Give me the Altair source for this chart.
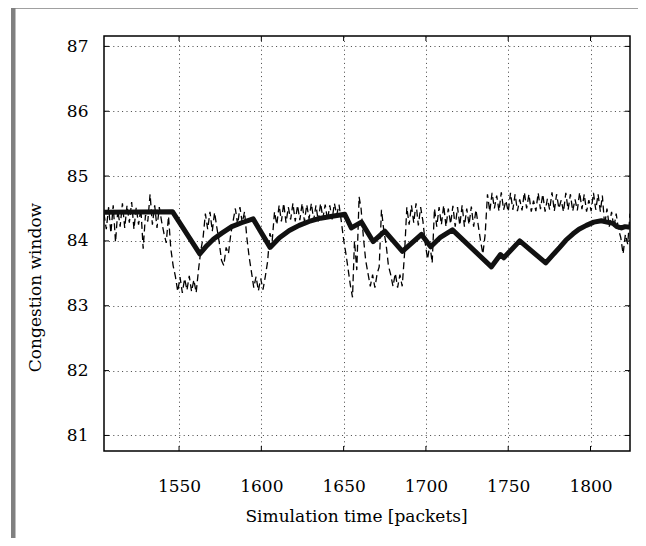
import altair as alt
import pandas as pd

# ---------------- data ----------------
x_ticks = [1550, 1600, 1650, 1700, 1750, 1800]
y_ticks = [81, 82, 83, 84, 85, 86, 87]
x_domain = [1504.4, 1824.0]
y_domain = [80.76, 87.16]

# thick solid line (average congestion window)
avg_time = [1504.4, 1546.0, 1562.6, 1567.0, 1571.0, 1576.0, 1582.0, 1588.0, 1595.0, 1605.3,
            1611.0, 1617.0, 1623.0, 1629.0, 1636.0, 1643.0, 1650.7, 1654.7, 1660.8, 1667.9,
            1675.0, 1685.7, 1697.3, 1702.9, 1709.0, 1716.1, 1739.8, 1745.3, 1747.3, 1757.0,
            1772.8, 1777.0, 1781.3, 1785.0, 1789.4, 1793.0, 1797.5, 1802.0, 1806.6, 1810.0,
            1813.7, 1816.0, 1818.8, 1821.0, 1824.0]
avg_cwnd = [84.44, 84.45, 83.80, 83.93, 84.03, 84.12, 84.22, 84.28, 84.34, 83.90,
            84.05, 84.16, 84.24, 84.30, 84.35, 84.38, 84.41, 84.20, 84.29, 83.99,
            84.15, 83.84, 84.10, 83.91, 84.06, 84.17, 83.60, 83.79, 83.74, 84.00,
            83.66, 83.78, 83.90, 84.01, 84.11, 84.18, 84.24, 84.29, 84.31, 84.29,
            84.27, 84.22, 84.20, 84.22, 84.21]

# thin dashed line (instantaneous congestion window)
dash_time = [
    1504.4, 1505.8, 1507.2, 1508.6, 1510.0, 1511.4, 1512.8, 1514.2, 1515.6, 1517.0,
    1518.4, 1519.8, 1521.2, 1522.6, 1524.0, 1525.4, 1526.8, 1528.2, 1529.6, 1531.0,
    1532.4, 1533.8, 1535.2, 1536.6, 1538.0, 1539.4, 1540.8, 1542.2, 1543.6, 1545.0,
    1546.4, 1547.8, 1549.2, 1550.6, 1552.0, 1553.4, 1554.8, 1556.2, 1557.6, 1559.0,
    1560.4, 1561.8,
    1563.2, 1564.6, 1566.0, 1567.4, 1568.8, 1570.2, 1571.6, 1573.0, 1574.4, 1575.8,
    1577.2, 1578.6, 1580.0, 1581.4, 1582.8, 1584.2, 1585.6, 1587.0, 1588.4, 1589.8,
    1591.2, 1592.6, 1594.0, 1595.4, 1596.8, 1598.2, 1599.6, 1601.0, 1602.4, 1603.8,
    1605.2,
    1606.6, 1608.0, 1609.4, 1610.8, 1612.2, 1613.6, 1615.0, 1616.4, 1617.8, 1619.2,
    1620.6, 1622.0, 1623.4, 1624.8, 1626.2, 1627.6, 1629.0, 1630.4, 1631.8, 1633.2,
    1634.6, 1636.0, 1637.4, 1638.8, 1640.2, 1641.6, 1643.0, 1644.4, 1645.8, 1647.2,
    1648.6, 1650.0, 1651.4, 1652.8, 1654.2, 1655.4, 1656.6, 1658.0, 1659.4, 1660.6,
    1662.0, 1663.4, 1664.8, 1666.2, 1667.6, 1669.0, 1670.4, 1671.6, 1673.0, 1674.4,
    1675.8, 1677.2, 1678.6, 1680.0, 1681.4, 1682.8, 1684.2, 1685.6, 1687.0,
    1688.4, 1689.8, 1691.2, 1692.6, 1694.0, 1695.4, 1696.8, 1698.2, 1699.6, 1701.0,
    1702.4, 1703.8,
    1705.2, 1706.6, 1708.0, 1709.4, 1710.8, 1712.2, 1713.6, 1715.0, 1716.4, 1717.8,
    1719.2, 1720.6, 1722.0, 1723.4, 1724.8, 1726.2, 1727.6, 1729.0, 1730.4, 1731.8,
    1733.2, 1734.6, 1736.0,
    1737.4, 1738.8, 1740.2, 1741.6, 1743.0, 1744.4, 1745.8, 1747.2, 1748.6, 1750.0,
    1751.4, 1752.8, 1754.2, 1755.6, 1757.0, 1758.4, 1759.8, 1761.2, 1762.6, 1764.0,
    1765.4, 1766.8, 1768.2, 1769.6, 1771.0, 1772.4, 1773.8, 1775.2, 1776.6, 1778.0,
    1779.4, 1780.8, 1782.2, 1783.6, 1785.0, 1786.4, 1787.8, 1789.2, 1790.6, 1792.0,
    1793.4, 1794.8, 1796.2, 1797.6, 1799.0, 1800.4, 1801.8, 1803.2, 1804.6, 1806.0,
    1807.2,
    1808.6, 1810.0, 1811.4, 1812.8, 1814.2, 1815.6, 1817.0, 1818.4, 1819.8, 1821.2,
    1822.6, 1824.0,
]
dash_cwnd = [
    84.42, 84.18, 84.52, 84.12, 84.55, 83.98, 84.48, 84.22, 84.58, 84.20,
    84.55, 84.28, 84.60, 84.18, 84.52, 84.25, 84.50, 83.88, 84.40, 84.30,
    84.72, 84.25, 84.55, 84.20, 84.52, 84.30, 84.12, 83.97, 84.38, 83.88,
    83.62, 83.45, 83.22, 83.44, 83.20, 83.42, 83.24, 83.46, 83.22, 83.40,
    83.20, 83.55,
    83.85, 84.05, 84.42, 84.18, 84.45, 84.15, 84.44, 84.20, 83.98, 83.70,
    83.62, 83.90, 83.80, 84.10, 84.30, 84.50, 84.25, 84.52, 84.28, 84.45,
    84.05, 83.75, 83.52, 83.28, 83.45, 83.23, 83.42, 83.25, 83.45, 83.68,
    84.12,
    84.00, 84.45, 84.25, 84.55, 84.30, 84.58, 84.28, 84.52, 84.33, 84.58,
    84.30, 84.55, 84.32, 84.58, 84.30, 84.56, 84.34, 84.58, 84.32, 84.55,
    84.30, 84.58, 84.35, 84.56, 84.32, 84.55, 84.33, 84.58, 84.40, 84.56,
    84.30, 84.02, 83.80, 83.55, 83.30, 83.13, 84.00, 83.55, 84.68, 84.50,
    84.06, 83.70, 83.50, 83.30, 83.48, 83.28, 83.50, 83.60, 84.48, 84.16,
    83.95, 83.62, 83.48, 83.30, 83.50, 83.28, 83.48, 83.30, 83.80,
    84.52, 84.25, 84.55, 84.28, 84.58, 84.24, 84.52, 84.30, 83.96, 83.72,
    83.95, 83.66,
    84.50, 84.22, 84.52, 84.25, 84.55, 84.22, 84.50, 84.26, 84.54, 84.22,
    84.52, 84.24, 84.55, 84.22, 84.50, 84.25, 84.53, 84.22, 84.48, 84.24,
    84.00, 83.80, 84.10,
    84.72, 84.45, 84.74, 84.50, 84.70, 84.46, 84.75, 84.48, 84.62, 84.45,
    84.74, 84.48, 84.72, 84.46, 84.64, 84.47, 84.75, 84.50, 84.72, 84.45,
    84.62, 84.46, 84.74, 84.49, 84.72, 84.45, 84.65, 84.48, 84.75, 84.46,
    84.72, 84.50, 84.63, 84.45, 84.74, 84.48, 84.72, 84.46, 84.64, 84.47,
    84.75, 84.49, 84.72, 84.45, 84.63, 84.46, 84.74, 84.48, 84.72, 84.45,
    84.70,
    84.24, 84.50, 84.22, 84.45, 84.20, 84.42, 84.18, 84.05, 83.80, 84.10,
    83.95, 84.42,
]

x_title = "Simulation time [packets]"
y_title = "Congestion window"

# ---------------- chart ----------------
W, H = 526, 415
FONT = "DejaVu Serif"
FS = 17

avg_df = pd.DataFrame({"t": avg_time, "w": avg_cwnd})
n = min(len(dash_time), len(dash_cwnd))
inst_df = pd.DataFrame({"t": dash_time[:n], "w": dash_cwnd[:n]})

xs = alt.Scale(domain=x_domain, nice=False, zero=False)
ys = alt.Scale(domain=y_domain, nice=False, zero=False)

x_axis = alt.Axis(
    values=x_ticks, format="d", grid=True, gridDash=[1, 3.4], gridColor="#444",
    gridWidth=1, domain=False, ticks=False, tickSize=0,
    labelPadding=27, labelFlush=False,
    title=x_title, titleX=252, titleY=70, titleBaseline="alphabetic",
    titleAlign="center",
)
y_axis = alt.Axis(
    values=y_ticks, format="d", grid=True, gridDash=[1, 3.4], gridColor="#444",
    gridWidth=1, domain=False, ticks=False, tickSize=0,
    labelPadding=16,
    title=y_title, titleX=-64, titleY=251, titleAngle=270,
    titleBaseline="alphabetic", titleAlign="center",
)

X = alt.X("t:Q", scale=xs, axis=x_axis)
Y = alt.Y("w:Q", scale=ys, axis=y_axis)

dashed = alt.Chart(inst_df).mark_line(
    clip=True, color="black", strokeWidth=1.3, strokeDash=[7, 4]
).encode(x=X, y=Y)

thick = alt.Chart(avg_df).mark_line(
    clip=True, color="#111111", strokeWidth=5, strokeJoin="round"
).encode(x=X, y=Y)

xt_df = pd.DataFrame({"t": x_ticks})
yt_df = pd.DataFrame({"w": y_ticks})
tick_top = alt.Chart(xt_df).mark_rule(color="black", strokeWidth=1).encode(
    x=X, y=alt.value(0), y2=alt.value(5))
tick_bot = alt.Chart(xt_df).mark_rule(color="black", strokeWidth=1).encode(
    x=X, y=alt.value(H - 5), y2=alt.value(H))
tick_left = alt.Chart(yt_df).mark_rule(color="black", strokeWidth=1).encode(
    y=Y, x=alt.value(0), x2=alt.value(5))
tick_right = alt.Chart(yt_df).mark_rule(color="black", strokeWidth=1).encode(
    y=Y, x=alt.value(W - 5), x2=alt.value(W))

one = alt.Data(values=[{"k": 1}])
GRAY = "#808080"
frame_left = alt.Chart(one).mark_rect(color=GRAY).encode(
    x=alt.value(-93), x2=alt.value(-88.5), y=alt.value(-40), y2=alt.value(520))
frame_top = alt.Chart(one).mark_rect(color=GRAY).encode(
    x=alt.value(-93), x2=alt.value(545), y=alt.value(-40), y2=alt.value(-27.3))

chart = alt.layer(
    dashed, thick, tick_top, tick_bot, tick_left, tick_right,
    frame_left, frame_top,
).properties(
    width=W, height=H,
    autosize=alt.AutoSizeParams(type="none"),
    padding={"left": 96, "top": 28, "right": 8, "bottom": 87},
    background="white",
).configure(
    font=FONT,
).configure_axis(
    labelFont=FONT, labelFontSize=FS, labelColor="black",
    titleFont=FONT, titleFontSize=FS, titleFontWeight="normal", titleColor="black",
).configure_view(stroke="black", strokeWidth=1.5)

chart.save("out.html", embed_options={"renderer": "svg", "actions": False})
